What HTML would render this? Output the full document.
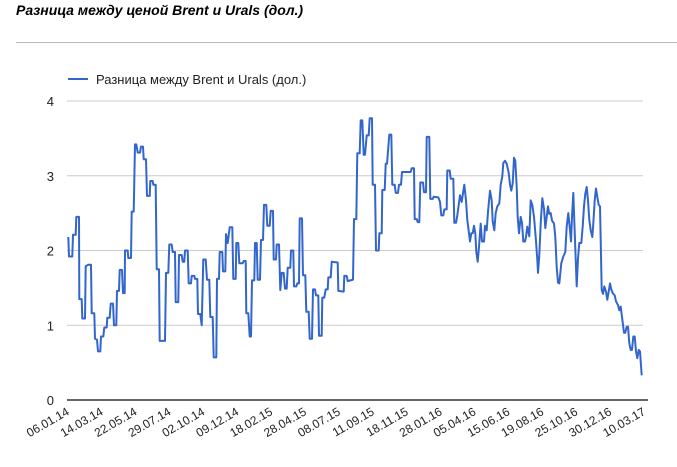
<!DOCTYPE html>
<html><head><meta charset="utf-8"><style>
html,body{margin:0;padding:0;background:#fff;width:677px;height:467px;overflow:hidden}
svg{display:block;font-family:"Liberation Sans",Arial,sans-serif}
</style></head><body>
<svg id="chart" width="677" height="467">
<text x="16" y="15" font-size="14" font-weight="bold" font-style="italic" fill="#000">Разница между ценой Brent и Urals (дол.)</text>
<line x1="16" y1="42.5" x2="677" y2="42.5" stroke="#bbb" stroke-width="1"/>
<g>
<line x1="68" y1="79" x2="88" y2="79" stroke="#3366cc" stroke-width="2"/>
<text x="96" y="84" font-size="13" fill="#222">Разница между Brent и Urals (дол.)</text>
</g>
<g id="grid"></g><g id="yt"></g><g id="xt"></g><g id="series"></g>
<line x1="67" y1="400" x2="648" y2="400" stroke="#333" stroke-width="1.5"/>
</svg>
<script>
const xLabels=["06.01.14","14.03.14","22.05.14","29.07.14","02.10.14","09.12.14","18.02.15","28.04.15","08.07.15","11.09.15","18.11.15","28.01.16","05.04.16","15.06.16","19.08.16","25.10.16","30.12.16","10.03.17","19.05.17","27.07.17"];
const yTicks=[0,1,2,3,4];
const tIdx=[1.3,2,5.3,6,8.7,9.3,12,12.3,14.7,15.3,18,18.7,21.3,24,24.7,27.3,28,30,31,33.3,34,36.3,37.3,39.7,40.3,42.7,43.7,46,47,49.3,50,52,52.7,55,56,57.7,58,60.7,61.3,64,64.7,66.7,68,69.3,70.7,73,74,76,76.7,79,80,82.7,83.3,85.7,86.3,88.7,89.7,92,92.7,98,99,101.3,102.3,104.7,105.7,108,108.7,111.3,112,114.7,115.7,117.3,118,120.7,121.7,124,124.7,127.3,128,130.3,131,133.3,134.7,136.3,138.7,140,142.3,143.3,145.7,146.7,149.3,150,152,152.7,155.3,156,158.3,159,160.7,162.7,165.3,166.3,168.7,169.3,171.3,172.3,175.7,176.7,178.7,179.3,181.3,182.7,184,185,187.3,188,189.7,190.7,193,194,196,197,199.3,200.3,202.7,203.7,206,206.7,209,209.7,212,213.3,214.7,216.7,218,219.7,220.7,223.3,224,226.3,227,229.3,230.3,232,232.7,235,236,238.3,239.3,241.7,242.7,245,246,248,249,251.3,252,254.7,255.3,257.3,258.7,260.7,261.3,263.7,264.7,270.7,271.3,276.7,277.3,279.7,280.7,283.3,286,287,289.3,290.3,292.7,293.7,295.3,296.7,298,299.7,301.7,302.7,305,305.7,308,309,311.7,312.3,314.7,315.3,317.7,318.7,320,321,322.3,324.3,325.3,327.7,328.7,331,332,334,335,343.7,344.7,347,347.7,349.7,350.7,352.3,353.3,356,357,359,359.7,362.3,363.3,365.7,366.7,371.3,373,374.3,376.3,377.3,379.7,380.3,382.7,383.7,386.3,387.3,389,390.3,393,394.7,397.3,399,400.3,402,403,404.3,405.7,407,408.3,409.3,410.7,412,413.7,415,417,418,419.7,421,423,424.7,425.7,427.3,428.7,430.3,432.3,433.7,435.3,436.3,438,439.7,441.7,443,444.3,445.7,447,448.3,449.7,450.7,452,453.7,455,456.3,458,459,460.3,462.3,463.7,465.3,467,468.7,470.3,471,472.3,473.7,475.3,477,478.3,479.7,481,482.3,483.7,485,487,488.3,489.7,491,492.3,494.3,496.3,498.3,499.7,501.3,503,504,505,506.3,508,509.7,511,512.3,514.3,515.7,517,518.3,519.7,521,522.3,523.7,525.3,526.3,527.7,529,530.3,531.7,533,533.7,534.7,536,537.3,539,540.3,541.7,543,544.3,545.7,547.7,549,551,552.3,553.7,555,557,558.3,559.7,561,562.3,563.7,565,566.3,567.7,569,570.3,571.7,573,574.7];
const vals=[2.18,1.92,1.92,2.21,2.21,2.45,2.45,1.35,1.35,1.09,1.09,1.79,1.81,1.81,1.16,1.16,0.82,0.81,0.65,0.65,0.85,0.85,0.97,0.97,1.10,1.10,1.29,1.29,1.00,1.00,1.46,1.46,1.74,1.74,1.43,1.43,2.00,2.00,1.90,1.90,2.52,2.52,3.42,3.42,3.31,3.31,3.39,3.39,3.22,3.22,2.73,2.73,2.93,2.93,2.88,2.88,1.75,1.75,0.79,0.79,1.70,1.70,2.08,2.08,1.98,1.98,1.31,1.31,1.94,1.94,1.85,1.85,2.00,2.00,1.56,1.56,1.66,1.66,1.62,1.62,1.15,1.15,1.00,1.88,1.88,1.61,1.61,1.11,1.11,0.57,0.57,1.62,1.62,1.98,1.98,1.72,1.72,2.22,2.10,2.31,2.31,1.62,1.62,2.10,2.10,1.83,1.83,1.86,1.86,1.16,1.16,0.85,0.85,1.60,1.60,2.10,2.10,1.61,1.61,2.14,2.14,2.61,2.61,2.33,2.33,2.53,2.53,1.88,1.88,2.08,2.08,1.47,1.70,1.70,1.49,1.49,1.77,1.77,2.00,2.00,1.52,1.52,1.56,1.56,2.43,2.43,1.67,1.67,1.18,1.18,0.82,0.82,1.48,1.48,1.40,1.40,0.86,0.86,1.37,1.37,1.48,1.48,1.64,1.64,1.85,1.84,1.46,1.45,1.66,1.66,1.59,1.60,1.61,2.42,2.42,3.30,3.30,3.74,3.74,3.28,3.28,3.54,3.54,3.77,3.77,2.88,2.88,2.00,2.00,2.23,2.23,2.81,2.81,3.16,3.16,3.33,3.55,3.55,2.88,2.88,2.77,2.77,2.88,2.88,3.05,3.05,3.10,3.10,2.42,2.42,2.38,2.38,2.91,2.91,2.78,2.78,3.52,3.52,2.69,2.69,2.72,2.71,2.65,2.47,2.47,2.55,2.55,3.07,3.07,2.96,2.96,2.37,2.37,2.47,2.74,2.65,2.88,2.67,2.41,2.23,2.12,2.23,2.23,2.33,2.23,1.98,1.85,2.05,2.36,2.12,2.12,2.33,2.27,2.52,2.80,2.67,2.39,2.27,2.50,2.59,2.63,2.88,2.99,3.17,3.20,3.16,3.04,2.88,2.80,2.90,3.24,3.20,2.85,2.45,2.23,2.45,2.37,2.12,2.12,2.18,2.32,2.19,2.67,2.61,2.45,2.18,1.88,1.70,1.94,2.36,2.70,2.56,2.30,2.45,2.59,2.49,2.50,2.40,2.36,2.18,1.78,1.57,1.56,1.83,1.92,1.98,2.32,2.50,2.27,2.12,2.45,2.77,2.14,1.52,1.89,2.10,2.10,2.32,2.59,2.76,2.85,2.67,2.41,2.27,2.18,2.36,2.67,2.83,2.72,2.61,2.59,2.14,1.47,1.42,1.52,1.45,1.34,1.45,1.56,1.48,1.43,1.40,1.32,1.27,1.20,1.25,1.11,0.90,0.90,0.98,0.98,0.76,0.67,0.67,0.85,0.85,0.65,0.56,0.67,0.65,0.33];
const NS="http://www.w3.org/2000/svg";
const X0=67,X1=643,Y0=400,Y1=101,TMAX=576,VMAX=4;
function xs(t){return X0+(X1-X0)*t/TMAX;}
function ys(v){return Y0-(Y0-Y1)*v/VMAX;}
const grid=document.getElementById('grid'),yt=document.getElementById('yt'),xt=document.getElementById('xt'),ser=document.getElementById('series');
yTicks.forEach(v=>{
 if(v>0){const l=document.createElementNS(NS,'line');
 l.setAttribute('x1',X0);l.setAttribute('x2',X1);l.setAttribute('y1',ys(v));l.setAttribute('y2',ys(v));
 l.setAttribute('stroke','#ccc');l.setAttribute('stroke-width','1');
 
 
 grid.appendChild(l);}
 const t=document.createElementNS(NS,'text');
 t.setAttribute('x',54);t.setAttribute('y',ys(v)+5);t.setAttribute('text-anchor','end');t.setAttribute('font-size','13');t.setAttribute('fill','#222');
 t.textContent=v;
 
 
 yt.appendChild(t);
});
const labs=xLabels.slice(0,18);
labs.forEach((s,i)=>{
 const x=70+i*33.9,y=414;
 const t=document.createElementNS(NS,'text');
 t.setAttribute('x',x);t.setAttribute('y',y);t.setAttribute('text-anchor','end');t.setAttribute('font-size','12');t.setAttribute('fill','#222');
 t.setAttribute('transform','rotate(-30 '+x+' '+y+')');
 t.textContent=s;
 
 
 xt.appendChild(t);
});
let d='';
tIdx.forEach((t,i)=>{d+=(i?'L':'M')+xs(t).toFixed(1)+' '+ys(vals[i]).toFixed(1);});
const p=document.createElementNS(NS,'path');
p.setAttribute('d',d);p.setAttribute('fill','none');p.setAttribute('stroke','#3366cc');p.setAttribute('stroke-width','2');p.setAttribute('stroke-linejoin','round');


ser.appendChild(p);
</script>
</body></html>
